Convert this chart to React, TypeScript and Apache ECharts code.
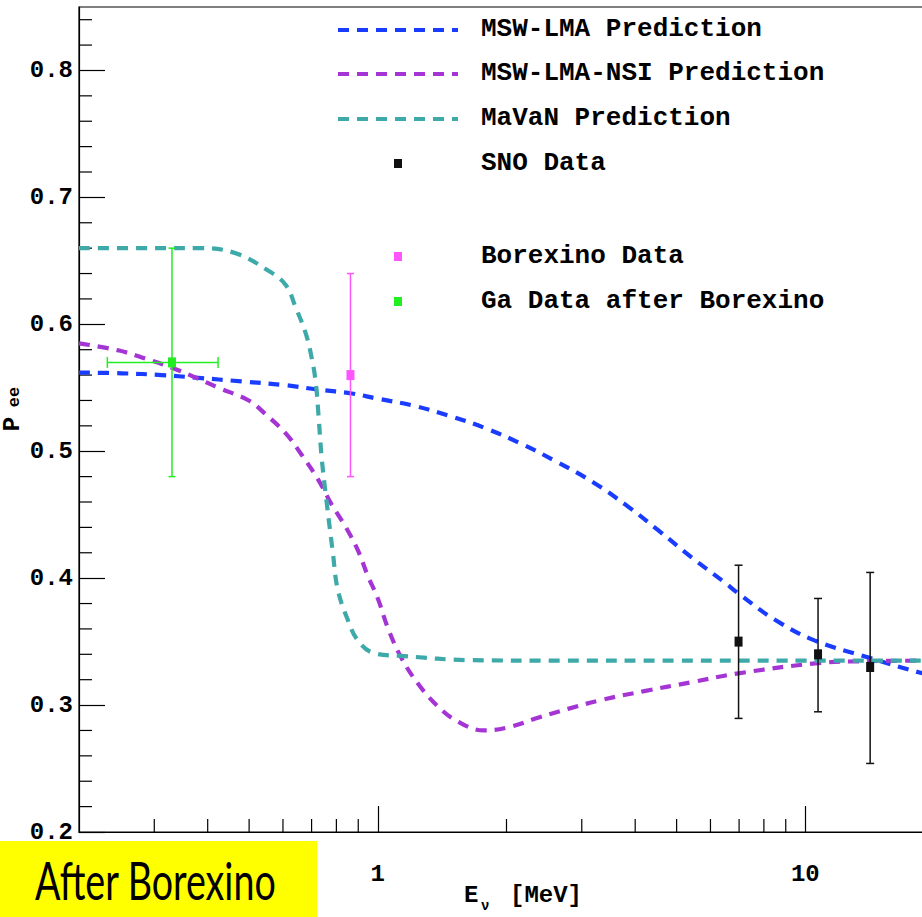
import React, { useEffect, useRef } from "react";
import * as echarts from "echarts";

// ---- Data ----
const lmaE = [0.2, 0.2515, 0.312, 0.375, 0.48, 0.609, 0.727, 0.869, 0.989, 1.208, 1.466, 1.79, 2.162, 2.611, 3.187, 3.809, 4.525, 5.41, 6.46, 6.97, 8.51, 10.5, 14.2, 18.8, 20];
const lmaP = [0.562, 0.5614, 0.56, 0.558, 0.555, 0.552, 0.5485, 0.5455, 0.5417, 0.536, 0.528, 0.518, 0.506, 0.492, 0.4756, 0.4575, 0.4378, 0.4165, 0.3969, 0.388, 0.367, 0.351, 0.337, 0.325, 0.3235];

const nsiE = [0.2, 0.247, 0.286, 0.329, 0.375, 0.424, 0.499, 0.547, 0.609, 0.664, 0.727, 0.78, 0.842, 0.898, 0.947, 1.0, 1.055, 1.132, 1.241, 1.382, 1.539, 1.771, 2.049, 2.37, 2.786, 3.33, 4.2, 5.41, 6.97, 10.7, 14.0, 20];
const nsiP = [0.585, 0.5795, 0.573, 0.566, 0.558, 0.55, 0.54, 0.529, 0.514, 0.497, 0.477, 0.458, 0.44, 0.422, 0.402, 0.384, 0.361, 0.338, 0.317, 0.299, 0.287, 0.28, 0.283, 0.29, 0.297, 0.304, 0.311, 0.318, 0.325, 0.333, 0.3346, 0.335];

const mavanE = [0.2, 0.3, 0.385, 0.465, 0.556, 0.609, 0.643, 0.678, 0.7, 0.716, 0.727, 0.739, 0.756, 0.785, 0.806, 0.851, 0.898, 0.979, 1.15, 1.65, 2.68, 5, 10, 20];
const mavanP = [0.66, 0.66, 0.66, 0.656, 0.642, 0.631, 0.613, 0.593, 0.574, 0.554, 0.527, 0.495, 0.465, 0.42, 0.391, 0.367, 0.351, 0.341, 0.3386, 0.3354, 0.335, 0.335, 0.335, 0.335];

// Data points: [E, P, P low, P high, E low, E high]
const snoE = [6.98, 10.71, 14.18];
const snoP = [0.35, 0.34, 0.33];
const snoLo = [0.2895, 0.2947, 0.254];
const snoHi = [0.4102, 0.384, 0.4045];

const borexE = [0.863];
const borexP = [0.56];
const borexLo = [0.48];
const borexHi = [0.64];

const gaE = [0.33];
const gaP = [0.57];
const gaLo = [0.48];
const gaHi = [0.66];
const gaELo = [0.233];
const gaEHi = [0.423];

const xMinorTicks = [0.3, 0.4, 0.5, 0.6, 0.7, 0.8, 0.9, 2, 3, 4, 5, 6, 7, 8, 9];
const yMinorTicks = [0.22, 0.24, 0.26, 0.28, 0.32, 0.34, 0.36, 0.38, 0.42, 0.44, 0.46, 0.48, 0.52, 0.54, 0.56, 0.58, 0.62, 0.64, 0.66, 0.68, 0.72, 0.74, 0.76, 0.78, 0.82, 0.84];

const legendNames = [
  "MSW-LMA Prediction",
  "MSW-LMA-NSI Prediction",
  "MaVaN Prediction",
  "SNO Data",
  "Borexino Data",
  "Ga Data after Borexino",
];

const C_BLUE = "#1a3cff";
const C_PURPLE = "#a534d4";
const C_TEAL = "#3ea9a9";
const C_GREEN = "#22ee22";
const C_MAGENTA = "#ff55ff";
const C_BLACK = "#111111";
const MONO = "'Liberation Mono', 'DejaVu Sans Mono', monospace";

const zip = (a: number[], b: number[]) => a.map((v, i) => [v, b[i]]);

function errorBarItem(color: string, capW: number, markW: number, markH: number) {
  return (params: any, api: any) => {
    const x = api.value(0);
    const y = api.value(1);
    const lo = api.value(2);
    const hi = api.value(3);
    const xlo = api.value(4);
    const xhi = api.value(5);
    const c = api.coord([x, y]);
    const t = api.coord([x, hi]);
    const b = api.coord([x, lo]);
    const ls = { stroke: color, lineWidth: 1.5 };
    const children: any[] = [
      { type: "line", shape: { x1: t[0], y1: t[1], x2: b[0], y2: b[1] }, style: ls },
      { type: "line", shape: { x1: t[0] - capW / 2, y1: t[1], x2: t[0] + capW / 2, y2: t[1] }, style: ls },
      { type: "line", shape: { x1: b[0] - capW / 2, y1: b[1], x2: b[0] + capW / 2, y2: b[1] }, style: ls },
    ];
    if (xlo !== xhi) {
      const l = api.coord([xlo, y]);
      const r = api.coord([xhi, y]);
      children.push(
        { type: "line", shape: { x1: l[0], y1: l[1], x2: r[0], y2: r[1] }, style: ls },
        { type: "line", shape: { x1: l[0], y1: l[1] - 5.5, x2: l[0], y2: l[1] + 5.5 }, style: ls },
        { type: "line", shape: { x1: r[0], y1: r[1] - 5.5, x2: r[0], y2: r[1] + 5.5 }, style: ls }
      );
    }
    children.push({
      type: "rect",
      shape: { x: c[0] - markW / 2, y: c[1] - markH / 2, width: markW, height: markH },
      style: { fill: color },
    });
    return { type: "group", children };
  };
}

export default function App() {
  const ref = useRef<HTMLDivElement>(null);

  useEffect(() => {
    if (!ref.current) return;
    const chart = echarts.init(ref.current, null, { renderer: "svg" });

    const lineSeries = (name: string, e: number[], p: number[], color: string) => ({
      name,
      type: "line",
      data: zip(e, p),
      showSymbol: false,
      smooth: 0.4,
      lineStyle: { color, width: 4.2, type: [11, 8], cap: "butt" },
      z: 3,
      silent: true,
    });

    const legendY = [29, 73, 118, 163, 256, 301];
    const legendLines = [C_BLUE, C_PURPLE, C_TEAL];
    const legendMarks = [C_BLACK, C_MAGENTA, C_GREEN];
    const graphic: any[] = [];
    legendLines.forEach((col, i) => {
      graphic.push({
        type: "line",
        shape: { x1: 338, y1: legendY[i] + 1, x2: 458, y2: legendY[i] + 1 },
        style: { stroke: col, lineWidth: 4.2, lineDash: [11, 8] },
      });
    });
    legendMarks.forEach((col, i) => {
      graphic.push({
        type: "rect",
        shape: { x: 394, y: legendY[i + 3] - 4, width: 8, height: 9 },
        style: { fill: col },
      });
    });
    legendNames.forEach((nm, i) => {
      graphic.push({
        type: "text",
        x: 481,
        y: legendY[i],
        style: {
          text: nm,
          fill: "#000",
          font: `bold 26px ${MONO}`,
          align: "left",
          verticalAlign: "middle",
        },
      });
    });
    // Y axis title P_ee
    graphic.push({
      type: "text",
      x: 12,
      y: 424,
      rotation: Math.PI / 2,
      style: { text: "P", fill: "#000", font: `bold 24px ${MONO}`, align: "center", verticalAlign: "middle" },
    });
    graphic.push({
      type: "text",
      x: 14,
      y: 397,
      rotation: Math.PI / 2,
      style: { text: "ee", fill: "#000", font: `bold 17px ${MONO}`, align: "center", verticalAlign: "middle" },
    });
    // X axis title E_nu [MeV]
    graphic.push({
      type: "text",
      x: 464,
      y: 895,
      style: { text: "E", fill: "#000", font: `bold 24px ${MONO}`, align: "left", verticalAlign: "middle" },
    });
    graphic.push({
      type: "text",
      x: 481,
      y: 906,
      style: { text: "ν", fill: "#000", font: `bold 14px ${MONO}`, align: "left", verticalAlign: "middle" },
    });
    graphic.push({
      type: "text",
      x: 510,
      y: 895,
      style: { text: "[MeV]", fill: "#000", font: `bold 24px ${MONO}`, align: "left", verticalAlign: "middle" },
    });
    // After Borexino box
    graphic.push({
      type: "rect",
      shape: { x: 0, y: 841, width: 317, height: 76 },
      style: { fill: "#ffff00" },
      z: 10,
    });
    graphic.push({
      type: "text",
      x: 35,
      y: 880,
      scaleX: 0.71,
      style: { text: "After Borexino", fill: "#000", font: "53px Lato", align: "left", verticalAlign: "middle" },
      z: 11,
    });

    const option: any = {
      animation: false,
      backgroundColor: "#ffffff",
      grid: {
        left: 79,
        top: 7,
        right: -12,
        bottom: 85,
        show: true,
        borderColor: "#000",
        borderWidth: 1.2,
        containLabel: false,
        outerBoundsMode: "none",
      },
      xAxis: {
        type: "log",
        logBase: 10,
        min: 0.2,
        max: 20,
        axisLine: { show: true, onZero: false, lineStyle: { color: "#000", width: 1.2 } },
        axisTick: { show: true, inside: true, length: 26, lineStyle: { color: "#000", width: 1.2 } },
        minorTick: { show: false },
        splitLine: { show: false },
        axisLabel: {
          margin: 30,
          color: "#000",
          fontFamily: MONO,
          fontWeight: "bold",
          fontSize: 24,
          showMinLabel: false,
          showMaxLabel: false,
          formatter: (v: number) => (Math.abs(v - 1) < 1e-6 ? "1" : Math.abs(v - 10) < 1e-5 ? "10" : ""),
        },
      },
      yAxis: {
        type: "value",
        min: 0.2,
        max: 0.85,
        interval: 0.1,
        axisLine: { show: true, onZero: false, lineStyle: { color: "#000", width: 1.2 } },
        axisTick: { show: true, inside: true, length: 26, lineStyle: { color: "#000", width: 1.2 } },
        minorTick: { show: false },
        splitLine: { show: false },
        axisLabel: {
          margin: 6,
          color: "#000",
          fontFamily: MONO,
          fontWeight: "bold",
          fontSize: 24,
          showMaxLabel: false,
          formatter: (v: number) => (v > 0.81 ? "" : v.toFixed(1)),
        },
      },
      series: [
        lineSeries(legendNames[0], lmaE, lmaP, C_BLUE),
        lineSeries(legendNames[1], nsiE, nsiP, C_PURPLE),
        lineSeries(legendNames[2], mavanE, mavanP, C_TEAL),
        {
          name: "x minor ticks",
          type: "custom",
          silent: true,
          z: 2,
          data: xMinorTicks.map((v) => [v, 0.2]),
          renderItem: (params: any, api: any) => {
            const p = api.coord([api.value(0), api.value(1)]);
            return {
              type: "line",
              shape: { x1: p[0], y1: p[1], x2: p[0], y2: p[1] - 13 },
              style: { stroke: "#000", lineWidth: 1.2 },
            };
          },
        },
        {
          name: "y minor ticks",
          type: "custom",
          silent: true,
          z: 2,
          data: yMinorTicks.map((v) => [0.2, v]),
          renderItem: (params: any, api: any) => {
            const p = api.coord([api.value(0), api.value(1)]);
            return {
              type: "line",
              shape: { x1: p[0], y1: p[1], x2: p[0] + 13, y2: p[1] },
              style: { stroke: "#000", lineWidth: 1.2 },
            };
          },
        },
        {
          name: legendNames[3],
          type: "custom",
          z: 5,
          data: snoE.map((e, i) => [e, snoP[i], snoLo[i], snoHi[i], e, e]),
          renderItem: errorBarItem(C_BLACK, 8, 8, 10),
        },
        {
          name: legendNames[4],
          type: "custom",
          z: 5,
          data: borexE.map((e, i) => [e, borexP[i], borexLo[i], borexHi[i], e, e]),
          renderItem: errorBarItem(C_MAGENTA, 7, 8, 10),
        },
        {
          name: legendNames[5],
          type: "custom",
          z: 5,
          data: gaE.map((e, i) => [e, gaP[i], gaLo[i], gaHi[i], gaELo[i], gaEHi[i]]),
          renderItem: errorBarItem(C_GREEN, 7, 8, 10),
        },
      ],
      graphic,
    };

    chart.setOption(option);
    return () => chart.dispose();
  }, []);

  return (
    <div
      ref={ref}
      style={{ position: "fixed", left: 0, top: 0, width: 922, height: 917, background: "#fff" }}
    />
  );
}
